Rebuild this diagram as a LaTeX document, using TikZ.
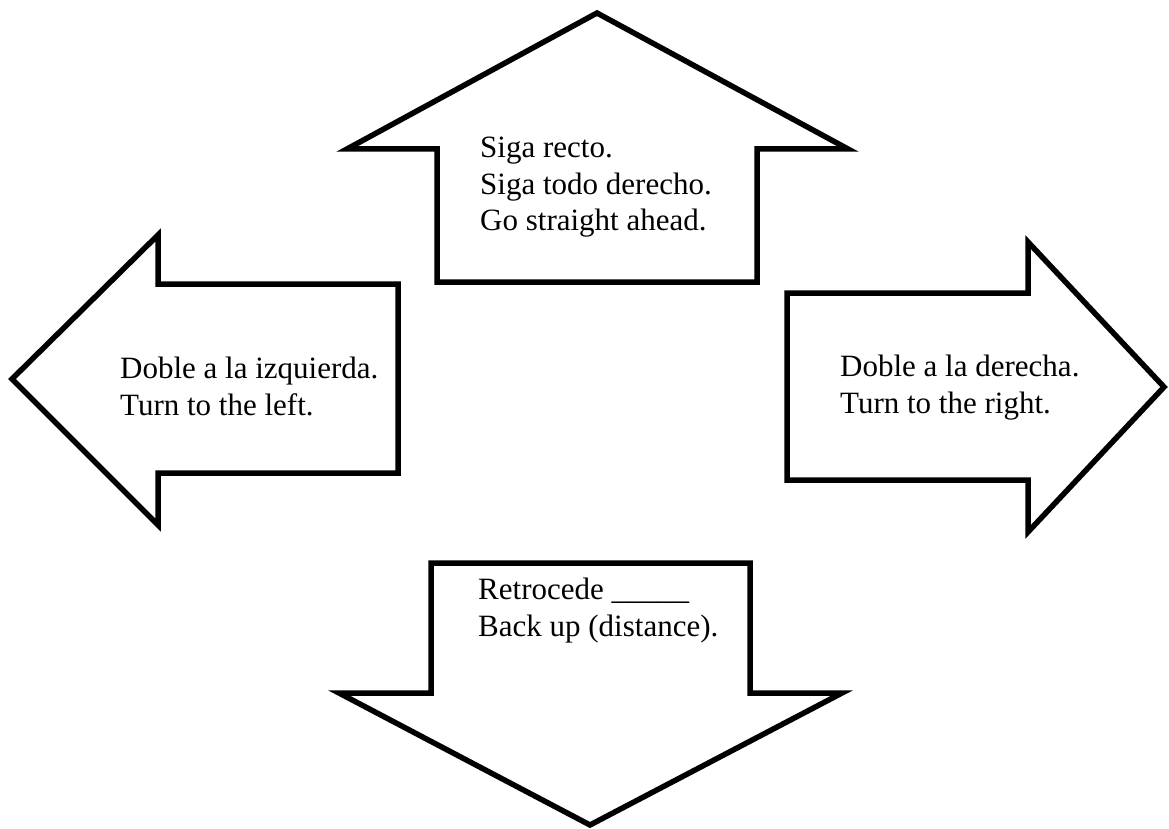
\documentclass[tikz,border=0pt]{standalone}
\usepackage{fontspec}
\setmainfont{Liberation Serif}
\begin{document}
\begin{tikzpicture}[x=1pt,y=-1pt]
\tikzstyle{arrow shape}=[draw=black,line width=5.5pt,line join=miter,fill=white]
\tikzstyle{label text}=[anchor=north west,inner sep=0pt,align=left,font=\fontsize{31}{36.5}\selectfont]

% Fix the page size
\useasboundingbox (0,0) rectangle (1169,829);

% Draw the up arrow
\draw[arrow shape] (597,13) -- (848,149) -- (757,149) -- (757,282) -- (437,282) -- (437,149) -- (347,149) -- cycle;

% Draw the left arrow
\draw[arrow shape] (12,379) -- (158,235) -- (158,284) -- (398,284) -- (398,473) -- (158,473) -- (158,525) -- cycle;

% Draw the right arrow
\draw[arrow shape] (1164,387) -- (1028,242) -- (1028,293) -- (787,293) -- (787,480) -- (1028,480) -- (1028,532) -- cycle;

% Draw the down arrow
\draw[arrow shape] (590,825) -- (842,693) -- (750,693) -- (750,563) -- (431,563) -- (431,693) -- (339,693) -- cycle;

% Annotate the arrows
\node[label text] (straight) at (480,137) {Siga recto.\\Siga todo derecho.\\Go straight ahead.};
\node[label text] (left) at (120,357) {Doble a la izquierda.\\Turn to the left.};
\node[label text] (right) at (840,355) {Doble a la derecha.\\Turn to the right.};
\node[label text] (back) at (478,578) {Retrocede \_\_\_\_\_\\Back up (distance).};

\end{tikzpicture}
\end{document}
